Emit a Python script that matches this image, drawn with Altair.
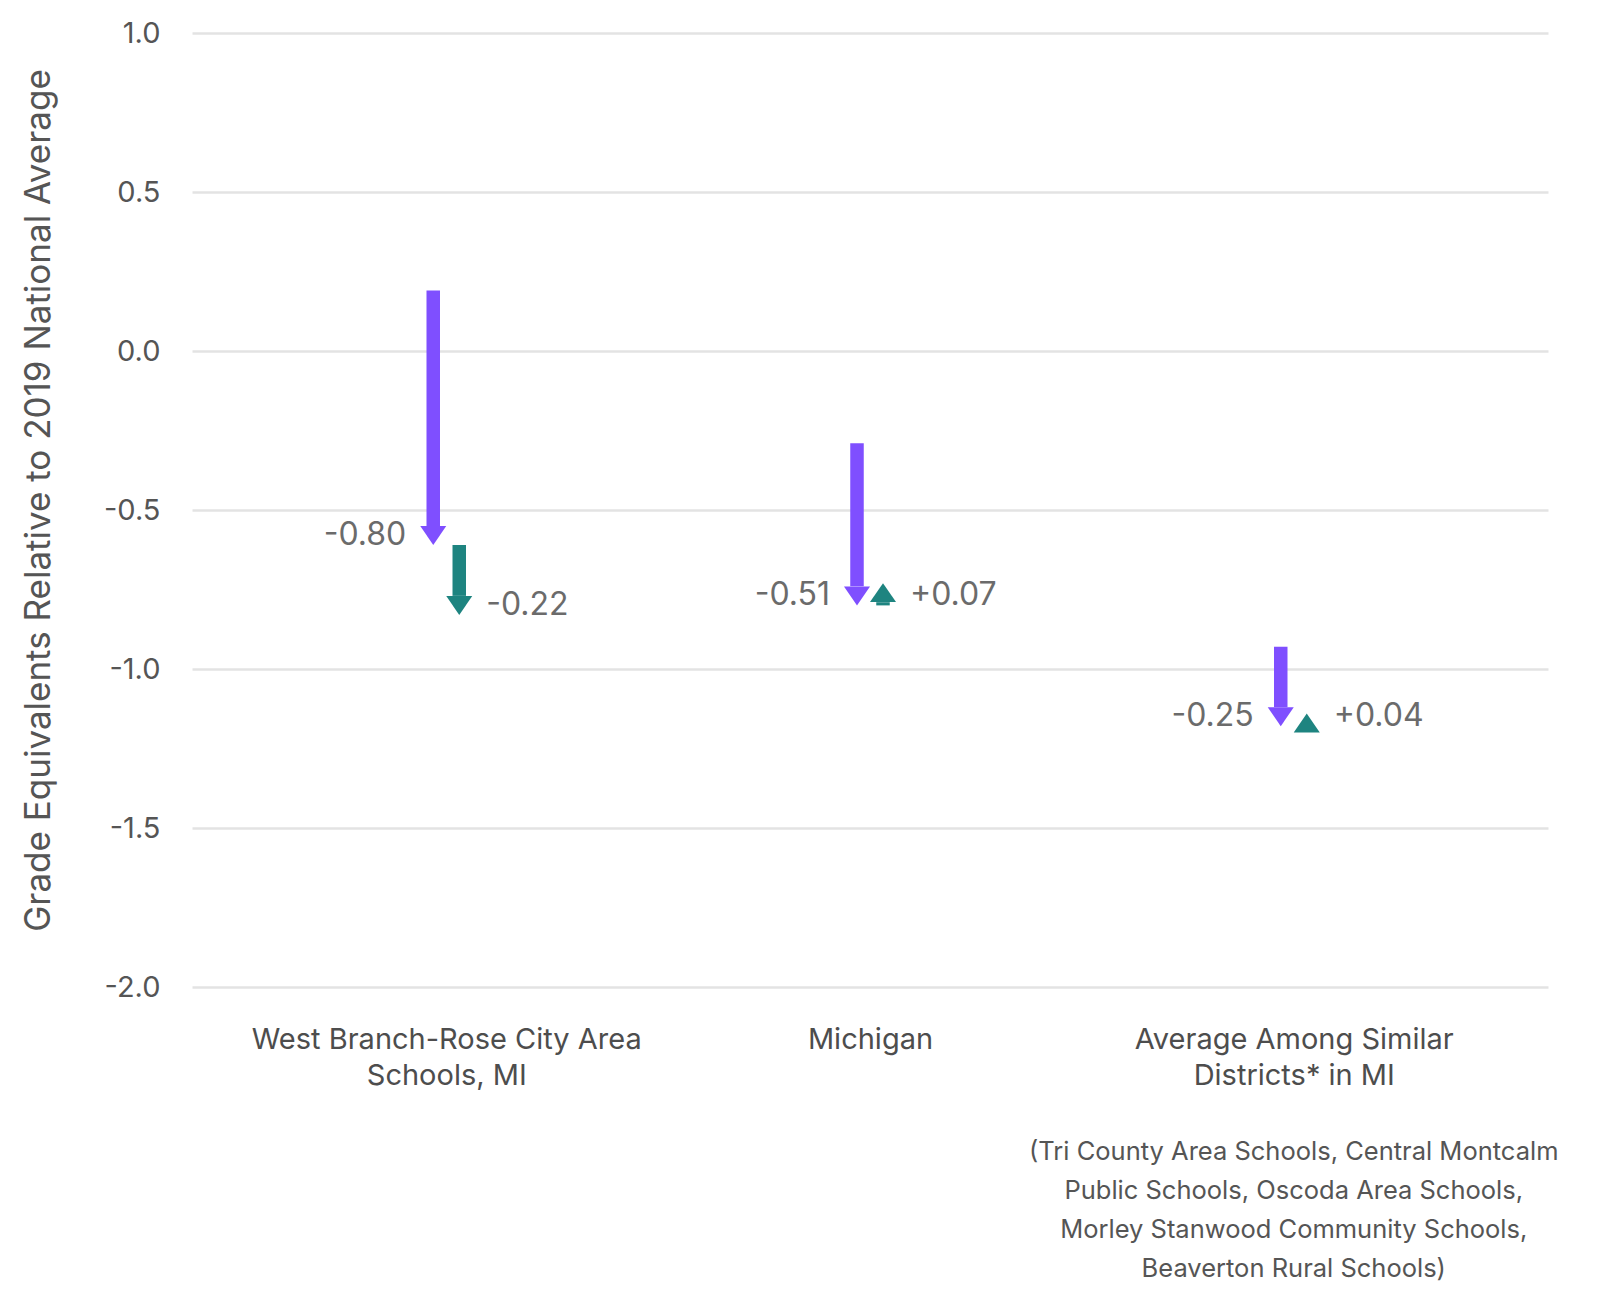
import altair as alt
import pandas as pd

# ---- data ----
categories = [
    "West Branch-Rose City Area|Schools, MI",
    "Michigan",
    "Average Among Similar|Districts* in MI",
]
start_2019 = [0.19, -0.29, -0.93]
change_2019_2022 = [-0.80, -0.51, -0.25]
change_2022_2023 = [-0.22, 0.07, 0.04]
note_text = ("(Tri County Area Schools, Central Montcalm|Public Schools, Oscoda Area Schools,|"
             "Morley Stanwood Community Schools,|Beaverton Rural Schools)")
y_ticks = [-2.0, -1.5, -1.0, -0.5, 0.0, 0.5, 1.0]

PURPLE = "#7f4fff"
TEAL = "#1e8480"
FONT = "Inter"
HEAD = 0.06  # arrow head length in data units

rows = []
for cat, s, c1, c2 in zip(categories, start_2019, change_2019_2022, change_2022_2023):
    for series, a, c in (("2022", s, c1), ("2023", s + c1, c2)):
        end = a + c
        sign = 1 if c > 0 else -1
        stem_end = end - sign * min(HEAD, abs(c))
        rows.append(dict(cat=cat, series=series, start=a, end=end, stem_end=stem_end,
                         low=min(a, end), dir="up" if c > 0 else "down",
                         label=f"{c:+.2f}"))
df = pd.DataFrame(rows)

color_scale = alt.Scale(domain=["2022", "2023"], range=[PURPLE, TEAL])
x_scale = alt.Scale(type="point", padding=0.6)
x_enc = alt.X("cat:N", sort=categories, scale=x_scale,
              axis=alt.Axis(title=None, labelExpr="split(datum.label, '|')",
                            labelFontSize=29, labelColor="#4d4d4d", labelFont=FONT,
                            labelLineHeight=36, labelPadding=38, labelLimit=800,
                            domain=False, ticks=False, grid=False, labelAngle=0))
y_scale = alt.Scale(domain=[-2, 1], nice=False, zero=False)
y_enc = alt.Y("start:Q", scale=y_scale,
              axis=alt.Axis(title="Grade Equivalents Relative to 2019 National Average",
                            values=y_ticks,
                            labelExpr="(datum.value < 0 ? '-' : '') + format(abs(datum.value), '.1f')",
                            labelFontSize=29, labelColor="#555555", labelFont=FONT,
                            labelPadding=32, ticks=False, domain=False,
                            gridColor="#e3e3e3", gridWidth=2.5,
                            titleFontSize=35, titleFont=FONT, titleColor="#555555",
                            titleFontWeight="normal", titlePadding=47, titleY=467))

base = alt.Chart(df)

def layer_for(series, offset):
    d = base.transform_filter(alt.datum.series == series)
    stem = d.mark_rule(strokeWidth=13.5, strokeCap="butt", xOffset=offset).encode(
        x=x_enc, y=y_enc, y2="stem_end:Q",
        color=alt.Color("series:N", scale=color_scale, legend=None))
    head = d.mark_point(filled=True, opacity=1, strokeWidth=0, size=676, xOffset=offset).encode(
        x=x_enc, y=alt.Y("end:Q", scale=y_scale),
        color=alt.Color("series:N", scale=color_scale, legend=None),
        shape=alt.Shape("dir:N", scale=alt.Scale(
            domain=["down", "up"],
            range=["M-1,-1.46L1,-1.46L0,0Z", "M-1,1.46L1,1.46L0,0Z"]), legend=None))
    if offset < 0:
        txt = d.mark_text(align="right", baseline="middle", fontSize=32, font=FONT,
                          color="#6b6b6b", xOffset=offset - 27, dy=-10)
    else:
        txt = d.mark_text(align="left", baseline="middle", fontSize=32, font=FONT,
                          color="#6b6b6b", xOffset=offset + 27, dy=-10)
    txt = txt.encode(x=x_enc, y=alt.Y("low:Q", scale=y_scale), text="label:N")
    return [stem, head, txt]

note_df = pd.DataFrame({"cat": [categories[2]], "note": [note_text]})
note = alt.Chart(note_df).mark_text(
    align="center", baseline="top", fontSize=25.5, font=FONT, color="#555555",
    lineBreak="|", lineHeight=39).encode(
    x=alt.X("cat:N", sort=categories, scale=x_scale),
    y=alt.value(1107), text="note:N")

chart = alt.layer(*layer_for("2022", -13), *layer_for("2023", 13), note).properties(
    width=1356, height=954,
    autosize=alt.AutoSizeParams(type="none"),
    padding={"left": 184, "top": 25, "right": 20, "bottom": 312},
).configure(background="white").configure_view(stroke=None, strokeWidth=0)

chart.save("out.html", embed_options={"renderer": "svg", "actions": False})
